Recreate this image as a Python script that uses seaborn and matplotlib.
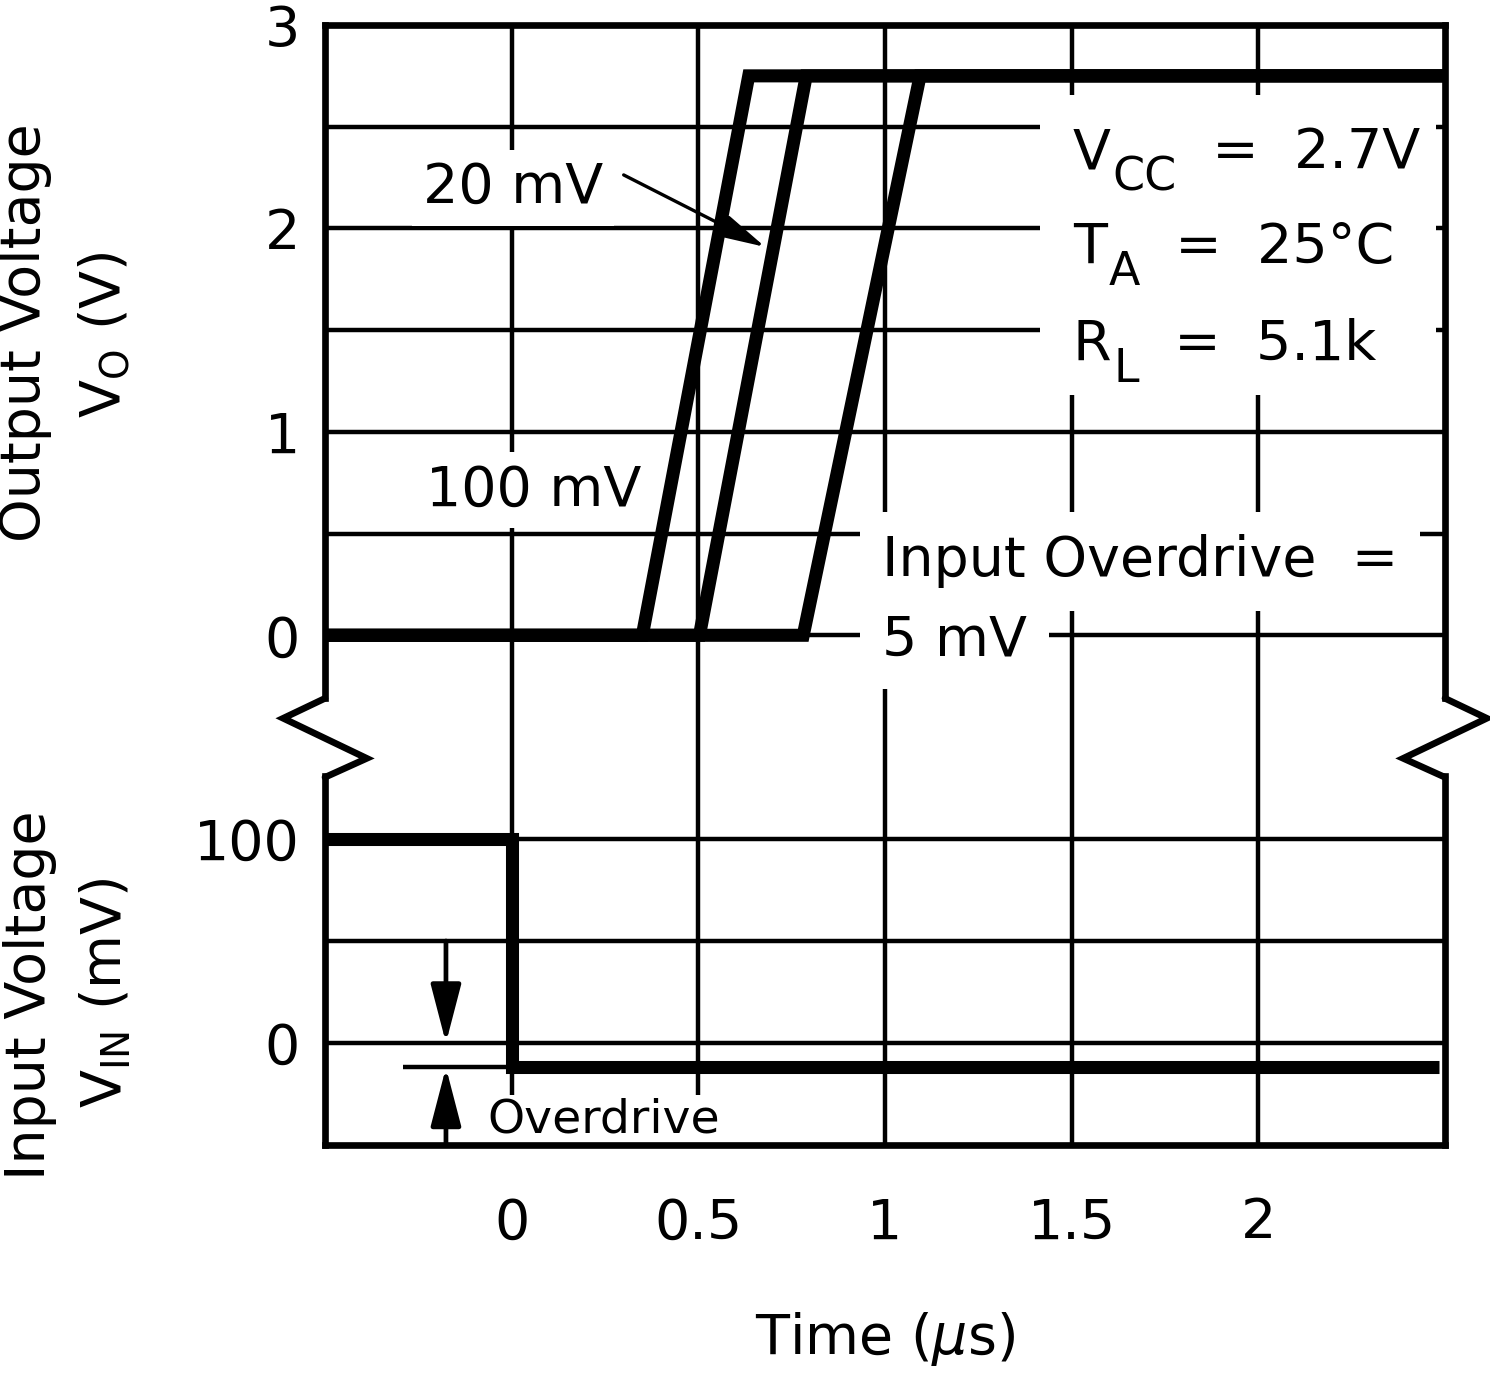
import matplotlib
matplotlib.use("Agg")
import matplotlib.pyplot as plt
import seaborn as sns
import pandas as pd
from matplotlib.lines import Line2D
from matplotlib.patches import Rectangle

# ---------------- data ----------------
overdrive_labels = ["100 mV", "20 mV", "5 mV"]
time_100mv = [-0.5, 0.35, 0.635, 2.5]
vout_100mv = [0.0, 0.0, 2.75, 2.75]
time_20mv = [-0.5, 0.503, 0.789, 2.5]
vout_20mv = [0.0, 0.0, 2.75, 2.75]
time_5mv = [-0.5, 0.781, 1.094, 2.5]
vout_5mv = [0.0, 0.0, 2.75, 2.75]

time_in = [-0.5, 0.0, 0.0, 2.485]
vin_mv = [100, 100, -12, -12]
overdrive_ref_mv = -12

x_ticks = [0, 0.5, 1, 1.5, 2]
x_ticklabels = ["0", "0.5", "1", "1.5", "2"]
vo_ticks = [0, 1, 2, 3]
vo_minor = [0.5, 1.5, 2.5]
vin_ticks = [0, 100]
vin_minor = [50]

# ---------------- style ----------------
sns.set_style("white")
plt.rcParams["font.family"] = ["DejaVu Sans"]
plt.rcParams["mathtext.fontset"] = "dejavusans"
for key in ("text.color", "axes.labelcolor", "xtick.color", "ytick.color",
            "axes.edgecolor"):
    plt.rcParams[key] = "black"

FS = 40
GRID_LW = 3.2
SPINE_LW = 4.8
TRACE_LW = 9.4

W_PX, H_PX = 1490, 1379
fig = plt.figure(figsize=(W_PX / 100, H_PX / 100), dpi=100)
fig.patch.set_facecolor("white")

L = 325 / W_PX
AW = 1120 / W_PX
ax_top = fig.add_axes([L, 1 - 737 / H_PX, AW, (737 - 25) / H_PX])
ax_bot = fig.add_axes([L, 1 - 1145 / H_PX, AW, (1145 - 737) / H_PX])

for ax in (ax_top, ax_bot):
    ax.set_xlim(-0.5, 2.5)
    ax.set_xticks(x_ticks)
    ax.set_axisbelow(True)
    ax.grid(True, which="both", color="black", lw=GRID_LW)
    ax.tick_params(which="both", length=0, labelsize=FS, colors="black",
                   labelcolor="black")
    ax.tick_params(axis="y", pad=18)
    for s in ax.spines.values():
        s.set_linewidth(SPINE_LW)
        s.set_color("black")

ax_top.set_ylim(-0.5, 3)
ax_top.set_yticks(vo_ticks)
ax_top.set_yticks(vo_minor, minor=True)
ax_top.set_yticklabels([str(v) for v in vo_ticks])
ax_top.set_xticklabels([])
ax_top.spines["bottom"].set_visible(False)
ax_top.spines["left"].set_bounds(-0.31, 3)
ax_top.spines["right"].set_bounds(-0.31, 3)

ax_bot.set_ylim(-50, 150)
ax_bot.set_yticks(vin_ticks)
ax_bot.set_yticks(vin_minor, minor=True)
ax_bot.set_yticklabels([str(v) for v in vin_ticks])
ax_bot.set_xticklabels(x_ticklabels)
ax_bot.tick_params(axis="x", pad=37)
ax_bot.spines["top"].set_visible(False)
ax_bot.spines["left"].set_bounds(-50, 131)
ax_bot.spines["right"].set_bounds(-50, 131)

# ---------------- traces ----------------
df_out = pd.concat([
    pd.DataFrame({"t": time_100mv, "v": vout_100mv, "od": overdrive_labels[0]}),
    pd.DataFrame({"t": time_20mv, "v": vout_20mv, "od": overdrive_labels[1]}),
    pd.DataFrame({"t": time_5mv, "v": vout_5mv, "od": overdrive_labels[2]}),
], ignore_index=True)

sns.lineplot(data=df_out, x="t", y="v", units="od", estimator=None, sort=False,
             color="black", lw=TRACE_LW, ax=ax_top, zorder=3,
             solid_joinstyle="miter", solid_capstyle="butt")
sns.lineplot(x=time_in, y=vin_mv, estimator=None, sort=False, color="black",
             lw=TRACE_LW, ax=ax_bot, zorder=3,
             solid_joinstyle="miter", solid_capstyle="butt")
ax_top.set_xlabel("")
ax_top.set_ylabel("")
ax_bot.set_ylabel("")

# ---------------- break marks ----------------
dx = 0.112
for xe, sgn in ((-0.5, -1), (2.5, 1)):
    zz = Line2D([xe, xe + sgn * dx, xe - sgn * dx, xe],
                [-0.31, -0.408, -0.605, -0.698],
                transform=ax_top.transData, color="black", lw=SPINE_LW,
                solid_joinstyle="miter")
    fig.add_artist(zz)

# ---------------- annotations ----------------
box = dict(boxstyle="square,pad=0.2", fc="white", ec="none")
ax_top.text(-0.238, 2.125, "20 mV", fontsize=FS, ha="left", va="baseline",
            bbox=box, zorder=2.2, color="black")
ax_top.annotate("", xy=(0.679, 1.909), xytext=(0.30, 2.263),
                arrowprops=dict(arrowstyle="-|>,head_length=1,head_width=0.25",
                                mutation_scale=28, lw=2.4, color="black",
                                shrinkA=0, shrinkB=0), zorder=3.5)
ax_top.text(-0.23, 0.639, "100 mV", fontsize=FS, ha="left", va="baseline",
            bbox=box, zorder=2.2, color="black")

box2 = dict(boxstyle="square,pad=0.4", fc="white", ec="none")
ax_top.text(0.992, 0.29, "Input Overdrive  =", fontsize=FS, ha="left",
            va="baseline", bbox=box2, zorder=2.2, color="black")
ax_top.text(0.992, -0.098, "5 mV", fontsize=FS, ha="left", va="baseline",
            bbox=box2, zorder=2.2, color="black")

# conditions block
ax_top.add_patch(Rectangle((1.414, 1.18), 1.062, 1.476, fc="white", ec="none",
                           zorder=2.1))
SUB_FS = 33
DROP = 14.5


def param(x, y, main, sub, rest):
    t1 = ax_top.text(x, y, main, fontsize=FS, ha="left", va="baseline",
                     zorder=2.4, color="black")
    t2 = ax_top.annotate(sub, xy=(1, 0), xycoords=t1, xytext=(1.5, -DROP),
                         textcoords="offset points", fontsize=SUB_FS,
                         ha="left", va="bottom", zorder=2.4, color="black")
    ax_top.annotate(rest, xy=(1, 0), xycoords=t2, xytext=(0, DROP),
                    textcoords="offset points", fontsize=FS,
                    ha="left", va="bottom", zorder=2.4, color="black")


param(1.503, 2.297, "V", "CC", "  =  2.7V")
param(1.503, 1.830, "T", "A", "  =  25°C")
param(1.503, 1.353, "R", "L", "  =  5.1k")

# overdrive marker (input panel)
ax_bot.plot([-0.291, 0], [overdrive_ref_mv, overdrive_ref_mv], color="black",
            lw=GRID_LW, zorder=2.6, solid_capstyle="butt")
arr = dict(arrowstyle="-|>,head_length=1,head_width=0.26", mutation_scale=36,
           lw=3.4, color="black", shrinkA=0, shrinkB=0)
ax_bot.annotate("", xy=(-0.176, 0), xytext=(-0.176, 50), arrowprops=arr, zorder=3)
ax_bot.annotate("", xy=(-0.176, overdrive_ref_mv), xytext=(-0.176, -50),
                arrowprops=arr, zorder=3)
ax_bot.text(-0.064, -43.8, "Overdrive", fontsize=34, ha="left", va="baseline",
            bbox=dict(boxstyle="square,pad=0.05", fc="white", ec="none"),
            zorder=2.2, color="black")

# ---------------- axis labels ----------------
ax_bot.set_xlabel(r"Time ($\mu$s)", fontsize=FS, color="black")
ax_bot.xaxis.set_label_coords(0.5, -0.404)

fig.text(25 / W_PX, 1 - 333 / H_PX, "Output Voltage", rotation=90,
         ha="center", va="center", fontsize=FS, color="black")
fig.text(105 / W_PX, 1 - 335 / H_PX, r"V$_\mathregular{O}$ (V)", rotation=90,
         ha="center", va="center", fontsize=FS, color="black")
fig.text(30 / W_PX, 1 - 995 / H_PX, "Input Voltage", rotation=90,
         ha="center", va="center", fontsize=FS, color="black")
fig.text(105 / W_PX, 1 - 993 / H_PX, r"V$_\mathregular{IN}$ (mV)", rotation=90,
         ha="center", va="center", fontsize=FS, color="black")

fig.savefig("out.png", dpi=100, facecolor="white")
